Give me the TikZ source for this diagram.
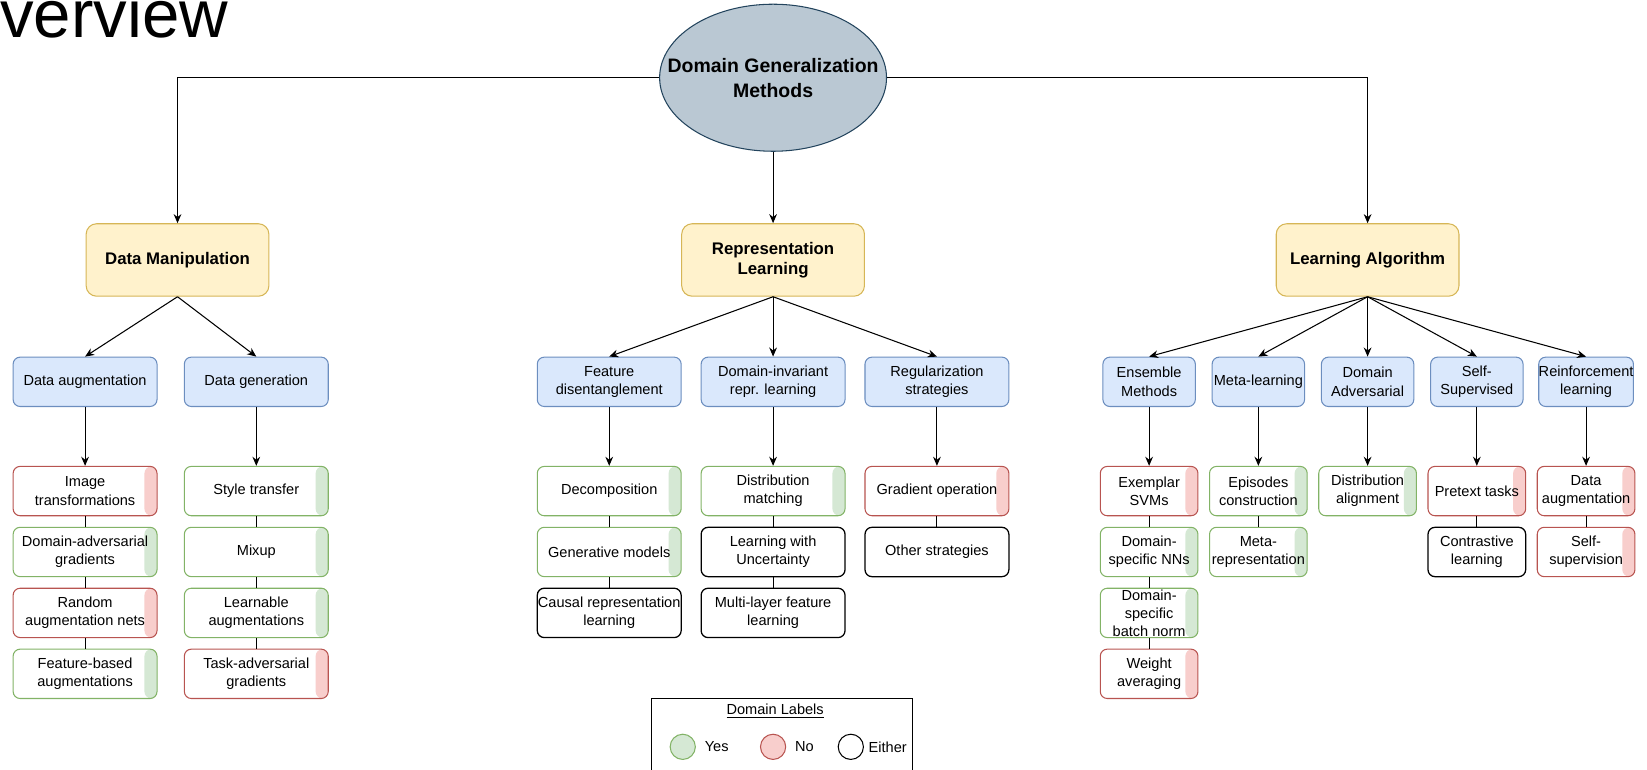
\documentclass[tikz,border=0pt]{standalone}
\usepackage{fontspec}
\setmainfont{Liberation Sans}
\usepackage{xcolor}
\usetikzlibrary{positioning}
\usetikzlibrary{shapes.geometric}
\usetikzlibrary{arrows.meta}
\definecolor{rootfill}{HTML}{BAC8D3}
\definecolor{rootline}{HTML}{23445D}
\definecolor{catfill}{HTML}{FFF2CC}
\definecolor{catline}{HTML}{D6B656}
\definecolor{subfill}{HTML}{DAE8FC}
\definecolor{subline}{HTML}{6C8EBF}
\definecolor{yesfill}{HTML}{D5E8D4}
\definecolor{yesline}{HTML}{82B366}
\definecolor{nofill}{HTML}{F8CECC}
\definecolor{noline}{HTML}{B85450}
\newcommand\leaffont{\fontsize{10.4}{12.9}\selectfont}
\tikzset{
  rootnode/.style={ellipse, draw=rootline, fill=rootfill, minimum width=162pt, minimum height=105pt,
    inner xsep=-25pt, inner ysep=0pt, align=center, font=\fontsize{13.9}{18}\selectfont\bfseries},
  catbox/.style={rectangle, rounded corners=7.5pt, draw=catline, fill=catfill, minimum width=130.5pt,
    minimum height=51.75pt, inner sep=0pt, align=center, font=\fontsize{12}{14.3}\selectfont\bfseries},
  subbox/.style={rectangle, rounded corners=5pt, draw=subline, fill=subfill, minimum width=102.75pt,
    minimum height=35.25pt, inner sep=0pt, align=center, font=\leaffont},
  subnarrow/.style={subbox, minimum width=66pt},
  leafbox/.style={rectangle, rounded corners=5pt, fill=white, minimum width=102.75pt,
    minimum height=35.25pt, inner sep=0pt, align=center, font=\leaffont},
  leafnarrow/.style={minimum width=69.75pt},
  yesbox/.style={leafbox, draw=yesline, path picture={
    \fill[yesfill] ([xshift=-9pt]path picture bounding box.north east) rectangle (path picture bounding box.south east);}},
  nobox/.style={leafbox, draw=noline, path picture={
    \fill[nofill] ([xshift=-9pt]path picture bounding box.north east) rectangle (path picture bounding box.south east);}},
  eitherbox/.style={leafbox, draw=black, line width=0.9pt},
  legdot/.style={circle, minimum size=18pt, inner sep=0pt}
}
\begin{document}
\begin{tikzpicture}[x=0.75pt, y=-0.75pt, line width=0.75pt, >={Stealth[length=6.5pt, width=5.5pt]}]
\path[use as bounding box, clip] (0,0) rectangle (1568,733);
\node[anchor=base west, inner sep=0pt, font=\fontsize{48}{48}\selectfont] (title) at (-50,36) {Overview};

\node[rootnode] (root) at (736,74) {Domain Generalization\\Methods};

\node[catbox] (dm) at (169,247.5) {Data Manipulation};
\node[catbox] (rl) at (736,247.5) {Representation\\Learning};
\node[catbox] (la) at (1302,247.5) {Learning Algorithm};

\draw[->] (root.west) -| (dm.north);
\draw[->] (root.south) -- (rl.north);
\draw[->] (root.east) -| (la.north);

\node[subbox] (daug) at (81,363.5) {Data augmentation};
\node[subbox] (dgen) at (244,363.5) {Data generation};
\node[subbox] (fdis) at (580,363.5) {Feature\\disentanglement};
\node[subbox] (dinv) at (736,363.5) {Domain-invariant\\repr. learning};
\node[subbox] (regs) at (892,363.5) {Regularization\\strategies};
\node[subnarrow] (ens) at (1094,363.5) {Ensemble\\Methods};
\node[subnarrow] (meta) at (1198,363.5) {Meta-learning};
\node[subnarrow] (dadv) at (1302,363.5) {Domain\\Adversarial};
\node[subnarrow] (ssup) at (1406,363.5) {Self-\\Supervised};
\node[subnarrow] (rein) at (1510,363.5) {Reinforcement\\learning};

\draw[->] (dm.south) -- (daug.north);
\draw[->] (dm.south) -- (dgen.north);
\draw[->] (rl.south) -- (fdis.north);
\draw[->] (rl.south) -- (dinv.north);
\draw[->] (rl.south) -- (regs.north);
\draw[->] (la.south) -- (ens.north);
\draw[->] (la.south) -- (meta.north);
\draw[->] (la.south) -- (dadv.north);
\draw[->] (la.south) -- (ssup.north);
\draw[->] (la.south) -- (rein.north);

% data augmentation
\node[nobox] (daug1) at (81,467.5) {Image\\transformations};
\node[yesbox] (daug2) at (81,525.5) {Domain-adversarial\\gradients};
\node[nobox] (daug3) at (81,583.5) {Random\\augmentation nets};
\node[yesbox] (daug4) at (81,641.5) {Feature-based\\augmentations};
\draw[->] (daug) -- (daug1);
\draw (daug1) -- (daug2);
\draw (daug2) -- (daug3);
\draw (daug3) -- (daug4);

% data generation
\node[yesbox] (dgen1) at (244,467.5) {Style transfer};
\node[yesbox] (dgen2) at (244,525.5) {Mixup};
\node[yesbox] (dgen3) at (244,583.5) {Learnable\\augmentations};
\node[nobox] (dgen4) at (244,641.5) {Task-adversarial\\gradients};
\draw[->] (dgen) -- (dgen1);
\draw (dgen1) -- (dgen2);
\draw (dgen2) -- (dgen3);
\draw (dgen3) -- (dgen4);

% representation learning
\node[yesbox] (fdis1) at (580,467.5) {Decomposition};
\node[yesbox] (fdis2) at (580,525.5) {Generative models};
\node[eitherbox] (fdis3) at (580,583.5) {Causal representation\\learning};
\draw[->] (fdis) -- (fdis1);
\draw (fdis1) -- (fdis2);
\draw (fdis2) -- (fdis3);

\node[yesbox] (dinv1) at (736,467.5) {Distribution\\matching};
\node[eitherbox] (dinv2) at (736,525.5) {Learning with\\Uncertainty};
\node[eitherbox] (dinv3) at (736,583.5) {Multi-layer feature\\learning};
\draw[->] (dinv) -- (dinv1);
\draw (dinv1) -- (dinv2);
\draw (dinv2) -- (dinv3);

\node[nobox] (regs1) at (892,467.5) {Gradient operation};
\node[eitherbox] (regs2) at (892,525.5) {Other strategies};
\draw[->] (regs) -- (regs1);
\draw (regs1) -- (regs2);

% learning algorithm
\node[nobox, leafnarrow] (ens1) at (1094,467.5) {Exemplar\\SVMs};
\node[yesbox, leafnarrow] (ens2) at (1094,525.5) {Domain-\\specific NNs};
\node[yesbox, leafnarrow] (ens3) at (1094,583.5) {Domain-\\specific\\batch norm};
\node[nobox, leafnarrow] (ens4) at (1094,641.5) {Weight\\averaging};
\draw[->] (ens) -- (ens1);
\draw (ens1) -- (ens2);
\draw (ens2) -- (ens3);
\draw (ens3) -- (ens4);

\node[yesbox, leafnarrow] (meta1) at (1198,467.5) {Episodes\\construction};
\node[yesbox, leafnarrow] (meta2) at (1198,525.5) {Meta-\\representation};
\draw[->] (meta) -- (meta1);
\draw (meta1) -- (meta2);

\node[yesbox, leafnarrow] (dadv1) at (1302,467.5) {Distribution\\alignment};
\draw[->] (dadv) -- (dadv1);

\node[nobox, leafnarrow] (ssup1) at (1406,467.5) {Pretext tasks};
\node[eitherbox, leafnarrow] (ssup2) at (1406,525.5) {Contrastive\\learning};
\draw[->] (ssup) -- (ssup1);
\draw (ssup1) -- (ssup2);

\node[nobox, leafnarrow] (rein1) at (1510,467.5) {Data\\augmentation};
\node[nobox, leafnarrow] (rein2) at (1510,525.5) {Self-\\supervision};
\draw[->] (rein) -- (rein1);
\draw (rein1) -- (rein2);

% legend
\draw[line width=0.6pt] (620,665) rectangle (869,760);
\node[font=\leaffont] (legtitle) at (738,677) {\underline{Domain Labels}};
\node[legdot, draw=yesline, fill=yesfill] (legyes) at (650,711) {};
\node[legdot, draw=noline, fill=nofill] (legno) at (736,711) {};
\node[legdot, draw=black] (legeither) at (810,711) {};
\node[font=\leaffont, right=6pt of legyes, inner sep=0pt] (legyestext) {Yes};
\node[font=\leaffont, right=6pt of legno, inner sep=0pt] (legnotext) {No};
\node[font=\leaffont, right=3pt of legeither, inner sep=0pt] (legeithertext) {Either};
\end{tikzpicture}
\end{document}
